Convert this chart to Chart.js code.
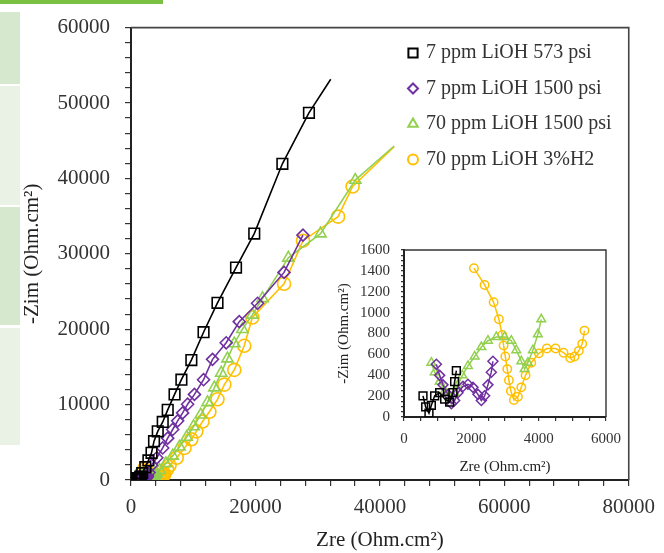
<html>
<head>
<title>Nyquist LiOH</title>
<script src="https://cdn.jsdelivr.net/npm/chart.js"></script>
<style>
  body { margin: 0; background: #fff; width: 664px; height: 553px; position: relative; overflow: hidden; }
  #mainChart { position: absolute; left: 0; top: 0; }
  #insetChart { position: absolute; left: 330px; top: 230px; }
  .strip { position: absolute; left: 0; width: 20px; }
</style>
</head>
<body>
<!-- bits of the page around the figure -->
<div style="position:absolute;left:0;top:0;width:163px;height:4px;background:#7ac143"></div>
<div class="strip" style="top:12px;height:72px;background:#d6e9cf"></div>
<div class="strip" style="top:86px;height:119px;background:#e9f2e5"></div>
<div class="strip" style="top:207px;height:118px;background:#d6e9cf"></div>
<div class="strip" style="top:328px;height:117px;background:#e9f2e5"></div>

<canvas id="mainChart" width="664" height="553" style="width:664px;height:553px"></canvas>
<canvas id="insetChart" width="300" height="250" style="width:300px;height:250px"></canvas>

<script>
const FONT = 'Liberation Serif';
const INK = '#333333';

const seriesNames = ['7 ppm LiOH 573 psi', '7 ppm LiOH 1500 psi', '70 ppm LiOH 1500 psi', '70 ppm LiOH 3%H2'];
const seriesColors = ['#000000', '#7030a0', '#92d050', '#ffc000'];
const seriesStyles = ['rect', 'rectRot', 'triangle', 'circle'];

// [Zre, -Zim] in Ohm.cm2, low range (shown in the inset too)
const s573Low = [[564,203],[644,97],[742,36],[813,112],[911,203],[1059,233],[1208,172],[1356,142],[1454,233],[1504,339],[1555,444]];
const s1500Low = [[961,505],[1059,399],[1157,308],[1306,217],[1406,127],[1504,158],[1602,233],[1751,293],[1899,314],[2048,284],[2196,217],[2297,158],[2395,203],[2493,308],[2593,429],[2641,534]];
const s70Low = [[813,520],[911,429],[1059,339],[1208,248],[1356,188],[1504,233],[1602,308],[1733,399],[1899,489],[2098,580],[2297,670],[2493,731],[2742,767],[2988,767],[3187,731],[3335,640],[3484,534],[3582,459],[3680,520],[3828,640],[3976,792],[4077,936]];
const sH2Low = [[2077,1426],[2395,1265],[2662,1099],[2819,936],[2920,785],[2958,686],[3009,580],[3068,459],[3116,353],[3175,248],[3264,163],[3383,194],[3484,284],[3611,399],[3780,520],[4006,610],[4243,656],[4501,656],[4739,616],[4938,565],[5065,580],[5193,634],[5294,701],[5362,828]];

// high range (main plot only)
const s573High = [[1800,900],[2300,1700],[2800,2600],[3300,3600],[3700,5150],[4300,6450],[5100,7700],[5900,9300],[7000,11350],[8100,13300],[9700,15900],[11660,19600],[13900,23500],[16880,28170],[19810,32680],[24330,41940],[28600,48700]];
const s1500High = [[2900,1000],[3300,1950],[4150,2950],[5100,4250],[5900,5550],[6700,6700],[7500,7850],[8300,8900],[9100,10050],[10200,11350],[11660,13300],[13100,16000],[15300,18200],[17400,21000],[20340,23440],[24600,27530],[27640,32470]];
const s70High = [[4600,1300],[5600,2200],[6700,3200],[7800,4400],[8950,5700],[10050,7100],[11200,8650],[12300,10300],[13400,12250],[14500,14200],[15500,16100],[16600,18100],[17900,20000],[19500,21900],[21140,24090],[25290,29460],[30460,32680],[36050,39780]];
const sH2High = [[5800,1400],[6200,1950],[7350,2950],[8600,4250],[9700,5400],[10500,6450],[11500,7750],[12600,9050],[13900,10700],[15000,12650],[16600,14600],[18200,17800],[19500,21550],[24600,26020],[27640,31740],[33280,34930],[35620,38930]];

// line continues past the last marker
const s573Tail = [[32100,53150]];
const s1500Tail = [];
const s70Tail = [[42300,44300]];
const sH2Tail = [[42300,44200]];

const mainXTicks = [0, 20000, 40000, 60000, 80000];
const mainYTicks = [0, 10000, 20000, 30000, 40000, 50000, 60000];
const insetXTicks = [0, 2000, 4000, 6000];
const insetYTicks = [0, 200, 400, 600, 800, 1000, 1200, 1400, 1600];

const lows = [s573Low, s1500Low, s70Low, sH2Low];
const highs = [s573High, s1500High, s70High, sH2High];
const tails = [s573Tail, s1500Tail, s70Tail, sH2Tail];
const mainRadius = [7.5, 6, 6.5, 6.5];
const insetRadius = [5.5, 5, 5, 4.2];

function makeSet(i, points, tail, r, lw) {
  const data = points.concat(tail).map(p => ({ x: p[0], y: p[1] }));
  return {
    label: seriesNames[i],
    data: data,
    showLine: true,
    borderColor: seriesColors[i],
    borderWidth: lw,
    pointStyle: seriesStyles[i],
    pointRadius: data.map((p, k) => k < points.length ? r : 0),
    pointBorderColor: seriesColors[i],
    pointBackgroundColor: 'rgba(0,0,0,0)',
    pointBorderWidth: lw,
    order: i + 1,
    tension: 0
  };
}

// top and right edges of the plot box
const frame = {
  id: 'frame',
  afterDraw(chart, args, opts) {
    const a = chart.chartArea, ctx = chart.ctx;
    ctx.save();
    ctx.strokeStyle = opts.color || '#444';
    ctx.lineWidth = opts.width || 1.5;
    ctx.beginPath();
    ctx.moveTo(a.left, a.top);
    ctx.lineTo(a.right, a.top);
    ctx.lineTo(a.right, a.bottom);
    ctx.stroke();
    ctx.restore();
  }
};

const boxLegend = {
  id: 'boxLegend',
  afterDraw(chart) {
    const ctx = chart.ctx;
    const sizes = [6.5, 5, 5.5, 5];
    ctx.save();
    ctx.font = '20px "' + FONT + '"';
    ctx.textBaseline = 'middle';
    seriesNames.forEach((name, i) => {
      const y = 53 + i * 35.5;
      ctx.strokeStyle = seriesColors[i];
      ctx.fillStyle = 'rgba(0,0,0,0)';
      ctx.lineWidth = 2;
      Chart.helpers.drawPoint(ctx, { pointStyle: seriesStyles[i], radius: sizes[i], borderWidth: 2, rotation: 0 }, 413, y);
      ctx.fillStyle = INK;
      ctx.fillText(name, 426, y);
    });
    ctx.restore();
  }
};

function axisOpts(min, max, step, labels, size, tick, pad, title, titlePad, fit) {
  return {
    type: 'linear', min: min, max: max,
    ticks: {
      stepSize: step, autoSkip: false, maxRotation: 0, padding: pad, color: INK,
      font: { family: FONT, size: size },
      callback: v => labels.includes(v) ? String(v) : ''
    },
    grid: { drawOnChartArea: false, drawTicks: true, tickLength: tick, color: '#333', lineWidth: 1.2 },
    border: { display: true, color: '#222', width: 2 },
    title: { display: true, text: title, color: '#222', font: { family: FONT, size: size }, padding: titlePad },
    afterFit: fit
  };
}

new Chart(document.getElementById('mainChart'), {
  type: 'scatter',
  data: { datasets: [0, 1, 2, 3].map(i => makeSet(i, lows[i].concat(highs[i]), tails[i], mainRadius[i], 1.6)) },
  options: {
    responsive: false,
    animation: false,
    layout: { padding: { left: 0, top: 15, right: 32, bottom: 0 } },
    plugins: { legend: { display: false }, tooltip: { enabled: false }, frame: { color: '#444', width: 1.6 } },
    scales: {
      x: axisOpts(0, 80000, 4000, mainXTicks, 21, 6, 9, 'Zre (Ohm.cm²)', { top: 0, bottom: 0 }, s => { s.height = 73; }),
      y: axisOpts(0, 60000, 2000, mainYTicks, 21, 6, 15, '-Zim (Ohm.cm²)', { top: 20, bottom: 0 }, s => { s.width = 131; })
    }
  },
  plugins: [frame, boxLegend]
});

new Chart(document.getElementById('insetChart'), {
  type: 'scatter',
  data: { datasets: [0, 1, 2, 3].map(i => makeSet(i, lows[i], [], insetRadius[i], 1.5)) },
  options: {
    responsive: false,
    animation: false,
    layout: { padding: { left: 0, top: 14, right: 22, bottom: 0 } },
    plugins: { legend: { display: false }, tooltip: { enabled: false }, frame: { color: '#333', width: 1.4 } },
    scales: {
      x: axisOpts(0, 6000, 500, insetXTicks, 15, 4, 9, 'Zre (Ohm.cm²)', { top: 0, bottom: 4 }, s => { s.height = 63; }),
      y: axisOpts(0, 1600, 50, insetYTicks, 15, 3, 11, '-Zim (Ohm.cm²)', { top: 5, bottom: 0 }, s => { s.width = 74; })
    }
  },
  plugins: [frame]
});
</script>
</body>
</html>
